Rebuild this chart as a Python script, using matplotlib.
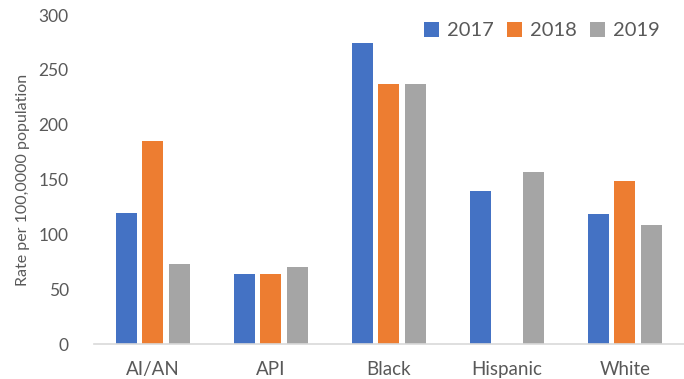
import numpy as np
import matplotlib.pyplot as plt

groups = ['AI/AN', 'API', 'Black', 'Hispanic', 'White']
years = ['2017', '2018', '2019']
rate_2017 = [120, 64, 275, 140, 119]
rate_2018 = [185, 64, 237, np.nan, 149]
rate_2019 = [73, 70, 237, 157, 109]
colors = ['#4472C4', '#ED7D31', '#A5A5A5']

plt.rcParams['font.family'] = ['Lato', 'DejaVu Sans']
text_color = '#595959'

fig = plt.figure(figsize=(6.84, 3.79), dpi=100)
axes = fig.add_axes([0.137, 0.092, 0.863, 0.868])

x = np.arange(len(groups))
step = 0.223
width = 0.178
for i, vals in enumerate([rate_2017, rate_2018, rate_2019]):
	axes.bar(x + (i - 1) * step, vals, width, color=colors[i], label=years[i])

axes.set_xlim(-0.5, len(groups) - 0.5)
axes.set_ylim(0, 300)
axes.set_yticks(range(0, 301, 50))
axes.set_xticks(x, groups)

for side in ['left', 'right', 'top']:
	axes.spines[side].set_visible(False)
axes.spines['bottom'].set_color('#D9D9D9')
axes.spines['bottom'].set_linewidth(1.2)
axes.tick_params(axis='both', length=0, colors=text_color)
axes.tick_params(axis='x', pad=12, labelsize=13.5)
axes.tick_params(axis='y', pad=18, labelsize=12.5)

axes.set_ylabel('Rate per 100,0000 population', fontsize=11.5, color=text_color, labelpad=6)

axes.legend(loc='upper right', bbox_to_anchor=(0.99, 1.035), ncol=3, frameon=False,
	fontsize=14.5, handlelength=0.75, handleheight=0.75, handletextpad=0.4,
	columnspacing=0.65, labelcolor=text_color)

fig.savefig('out.png', dpi=100)
